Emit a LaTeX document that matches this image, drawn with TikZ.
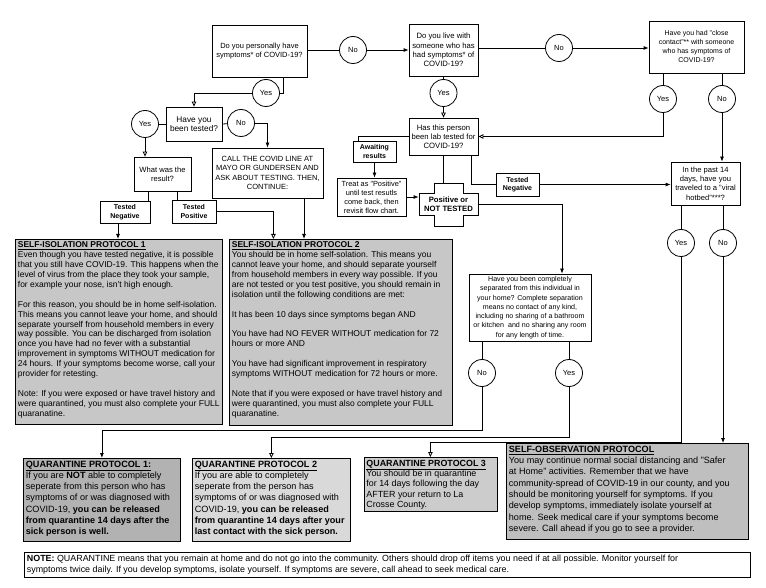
\documentclass[tikz,border=0pt]{standalone}
\usepackage{fontspec}
\setmainfont{Liberation Sans}
\usetikzlibrary{arrows.meta}
\newcommand\myqfont{\fontsize{7}{9}\selectfont}
\newcommand\mybigqfont{\fontsize{7.7}{9.2}\selectfont}
\newcommand\mysipfont{\fontsize{8.5}{9.9}\selectfont}
\newcommand\myqpfont{\fontsize{9.1}{11.2}\selectfont}
\newcommand\pcontent[3]{\begin{minipage}[c][#2pt][t]{#1pt}\raggedright #3\end{minipage}}
\begin{document}
\begin{tikzpicture}[x=1pt,y=-1pt, line width=0.8pt,
  box/.style={draw, inner sep=1pt, align=center, fill=white, font=\myqfont},
  circ/.style={draw, circle, minimum size=27pt, inner sep=0pt, fill=white, font=\fontsize{7.5}{8}\selectfont},
  lbl/.style={draw, align=center, inner sep=1pt, font=\fontsize{7}{8.5}\selectfont\bfseries, fill=white},
  farr/.style={-{Latex[length=5pt,width=4pt]}},
  oarr/.style={-{Triangle[open,length=5pt,width=4.5pt]}},
  pbox/.style={draw, anchor=north west, inner sep=2.5pt},
]
\useasboundingbox[fill=white] (0,0) rectangle (766,588);

% top row
\node[box, minimum width=95pt, minimum height=52pt, font=\fontsize{7.5}{9.3}\selectfont] (q1) at (259.5,51) {Do you personally have\\symptoms* of COVID-19?};
\node[circ] (no1) at (353,50) {No};
\node[box, minimum width=69pt, minimum height=52pt, font=\mybigqfont] (q2) at (443.5,50) {Do you live with\\someone who has\\had symptoms* of\\COVID-19?};
\node[circ] (no2) at (559,48) {No};
\node[box, minimum width=95pt, minimum height=52pt] (q3) at (696.5,47) {Have you had "close\\contact"** with someone\\who has symptoms of\\COVID-19?};
\node[circ] (yes3) at (663,99) {Yes};
\node[circ] (no3) at (722,99) {No};
\node[circ] (yes2) at (443.5,93) {Yes};
\node[circ] (yes1) at (266,93) {Yes};

% left branch
\node[box, minimum width=56pt, minimum height=34pt, font=\fontsize{8.3}{9.5}\selectfont] (tested) at (194,124) {Have you\\been tested?};
\node[circ] (yesT) at (145,124) {Yes};
\node[circ] (noT) at (241,123) {No};
\node[box, minimum width=57pt, minimum height=34pt, font=\fontsize{7.6}{9.3}\selectfont] (what) at (162.5,174) {What was the\\result?};
\node[box, minimum width=111pt, minimum height=50pt, font=\fontsize{7.5}{9.3}\selectfont] (call) at (267.5,173) {CALL THE COVID LINE AT\\MAYO OR GUNDERSEN AND\\ASK ABOUT TESTING. THEN,\\CONTINUE:};
\node[lbl, minimum width=50pt, minimum height=22pt] (tn1) at (125,212) {Tested\\Negative};
\node[lbl, minimum width=44pt, minimum height=23pt] (tp1) at (194,211.5) {Tested\\Positive};

% middle
\node[box, minimum width=69pt, minimum height=37pt, font=\mybigqfont] (q4) at (443.5,136.5) {Has this person\\been lab tested for\\COVID-19?};
\node[lbl, minimum width=43pt, minimum height=21pt] (aw) at (374.5,151.5) {Awaiting\\results};
\node[box, minimum width=69pt, minimum height=38pt, font=\fontsize{7.4}{9}\selectfont] (treat) at (371.5,197) {Treat as "Positive"\\until test resutls\\come back, then\\revisit flow chart.};
\draw[fill=white] (434,183) -- (463,183) -- (463,193) -- (478,193) -- (478,215) -- (463,215) -- (463,226) -- (434,226) -- (434,215) -- (419,215) -- (419,193) -- (434,193) -- cycle;
\node[minimum width=59pt, minimum height=43pt, inner sep=0pt, align=center, font=\fontsize{7.7}{9.3}\selectfont\bfseries] (pos) at (448.5,204.5) {Positive or\\NOT TESTED};
\node[lbl, minimum width=43pt, minimum height=23pt] (tn2) at (517.5,184.5) {Tested\\Negative};
\node[box, minimum width=69pt, minimum height=43pt, font=\fontsize{7.6}{9.2}\selectfont] (travel) at (705.5,183.5) {In the past 14\\days, have you\\traveled to a "viral\\hotbed"***?};
\node[circ] (yesTr) at (681,243) {Yes};
\node[circ] (noTr) at (723,243) {No};
\node[box, minimum width=122pt, minimum height=67pt, font=\fontsize{7.1}{9.3}\selectfont] (sep) at (530,307.5) {Have you been completely\\separated from this individual in\\your home? Complete separation\\means no contact of any kind,\\including no sharing of a bathroom\\or kitchen\ \ and no sharing any room\\for any length of time.};
\node[circ] (noSep) at (482,373) {No};
\node[circ] (yesSep) at (569,373) {Yes};

% protocol boxes
\node[pbox, fill=black!22] (sip1) at (15,239) {\pcontent{202}{180}{\mysipfont
\underline{\textbf{SELF-ISOLATION PROTOCOL 1}}\\
Even though you have tested negative, it is possible\\
that you still have COVID-19. This happens when the\\
level of virus from the place they took your sample,\\
for example your nose, isn't high enough.\\[9.9pt]
For this reason, you should be in home self-isolation.\\
This means you cannot leave your home, and should\\
separate yourself from household members in every\\
way possible. You can be discharged from isolation\\
once you have had no fever with a substantial\\
improvement in symptoms WITHOUT medication for\\
24 hours. If your symptoms become worse, call your\\
provider for retesting.\\[9.9pt]
Note: If you were exposed or have travel history and\\
were quarantined, you must also complete your FULL\\
quaranatine.}};
\node[pbox, fill=black!22] (sip2) at (229,239) {\pcontent{218}{181}{\mysipfont
\underline{\textbf{SELF-ISOLATION PROTOCOL 2}}\\
You should be in home self-solation. This means you\\
cannot leave your home, and should separate yourself\\
from household members in every way possible. If you\\
are not tested or you test positive, you should remain in\\
isolation until the following conditions are met:\\[9.9pt]
It has been 10 days since symptoms began AND\\[9.9pt]
You have had NO FEVER WITHOUT medication for 72\\
hours or more AND\\[9.9pt]
You have had significant improvement in respiratory\\
symptoms WITHOUT medication for 72 hours or more.\\[9.9pt]
Note that if you were exposed or have travel history and\\
were quarantined, you must also complete your FULL\\
quaranatine.}};
\node[pbox, fill=black!30] (qp1) at (23,458) {\pcontent{152}{78}{\myqpfont
\underline{\textbf{QUARANTINE PROTOCOL 1:}}\\
If you are \textbf{NOT} able to completely\\
seperate from this person who has\\
symptoms of or was diagnosed with\\
COVID-19, \textbf{you can be released}\\
\textbf{from quarantine 14 days after the}\\
\textbf{sick person is well.}}};
\node[pbox, fill=black!15] (qp2) at (192,458) {\pcontent{153}{78}{\myqpfont
\underline{\textbf{QUARANTINE PROTOCOL 2}}\\
If you are able to completely\\
seperate from the person has\\
symptoms of or was diagnosed with\\
COVID-19, \textbf{you can be released}\\
\textbf{from quarantine 14 days after your}\\
\textbf{last contact with the sick person.}}};
\node[pbox, fill=black!20] (qp3) at (363.5,457) {\pcontent{128}{49}{\fontsize{8.9}{10.4}\selectfont
\underline{\textbf{QUARANTINE PROTOCOL 3}}\\
You should be in quarantine\\
for 14 days following the day\\
AFTER your return to La\\
Crosse County.}};
\node[pbox, fill=black!25] (sop) at (506,443) {\pcontent{237}{91}{\fontsize{9.1}{11.3}\selectfont
\underline{\textbf{SELF-OBSERVATION PROTOCOL}}\\
You may continue normal social distancing and "Safer\\
at Home" activities. Remember that we have\\
community-spread of COVID-19 in our county, and you\\
should be monitoring yourself for symptoms. If you\\
develop symptoms, immediately isolate yourself at\\
home. Seek medical care if your symptoms become\\
severe. Call ahead if you go to see a provider.}};
\node[pbox, fill=white] (note) at (24,552) {\pcontent{721}{20}{\fontsize{8.9}{10.7}\selectfont
\textbf{NOTE:} QUARANTINE means that you remain at home and do not go into the community. Others should drop off items you need if at all possible. Monitor yourself for\\
symptoms twice daily. If you develop symptoms, isolate yourself. If symptoms are severe, call ahead to seek medical care.}};

% junction coordinates
\coordinate (j1) at (482,430);
\coordinate (j2) at (569,437);
\coordinate (j3) at (681,442);

% connectors top
\draw (q1.east |- no1) -- (no1);
\draw[farr] (no1) -- (no1 -| q2.west);
\draw (q2.east |- no2) -- (no2);
\draw[farr] (no2) -- (no2 -| q3.west);
\draw ([xshift=23.5pt]q1.south) |- (yes1.east);
\draw[oarr] (yes1.west) -| (tested.north);
\draw (tested.west) -- (yesT);
\draw[oarr] (yesT) -- (yesT |- what.north);
\draw (tested.east) -- (noT);
\draw[farr] (noT.east) -| (call.north);
\draw ([xshift=-14.5pt]what.south) -- ([xshift=-14.5pt]what.south |- tn1.north);
\draw ([xshift=14.5pt]what.south) -- ([xshift=14.5pt]what.south |- tp1.north);
\draw[farr] ([xshift=-7pt]tn1.south) -- ([xshift=-7pt]tn1.south |- sip1.north);
\draw[oarr] (tp1.east) -| ([xshift=-67.5pt]sip2.north);
\draw[farr] ([xshift=36.5pt]call.south) -- ([xshift=36.5pt]call.south |- sip2.north);

% middle connectors
\draw (q2.south) -- (yes2);
\draw[oarr] (yes2) -- (q4.north);
\draw (q3.south -| yes3) -- (yes3);
\draw[oarr] (yes3.south) |- (q4.east);
\draw (q3.south -| no3) -- (no3);
\draw[farr] (no3) -- (no3 |- travel.north);
\draw (q4.west) -| ([xshift=-16pt]aw.north);
\draw[farr] (aw.south) -- (aw.south |- treat.north);
\draw[farr] (treat.east) -- (treat.east -| pos.west);
\draw (q4.south) -- (q4.south |- pos.north);
\draw ([xshift=27.5pt]q4.south) |- (tn2.west);
\draw[farr] (tn2.east) -- (tn2.east -| travel.west);
\draw[farr] (pos.east) -| ([xshift=32pt]sep.north);

% lower connectors
\draw (travel.south -| yesTr) -- (yesTr);
\draw (travel.south -| noTr) -- (noTr);
\draw (sep.south -| noSep) -- (noSep);
\draw (sep.south -| yesSep) -- (yesSep);
\draw[farr] (noSep.south) -- (j1) -| (qp1.north);
\draw[oarr] (yesSep.south) -- (j2) -| (qp2.north);
\draw[oarr] (yesTr.south) -- (j3) -| (qp3.north);
\draw[farr] (noTr.south) -- (noTr.south |- sop.north);
\end{tikzpicture}
\end{document}
